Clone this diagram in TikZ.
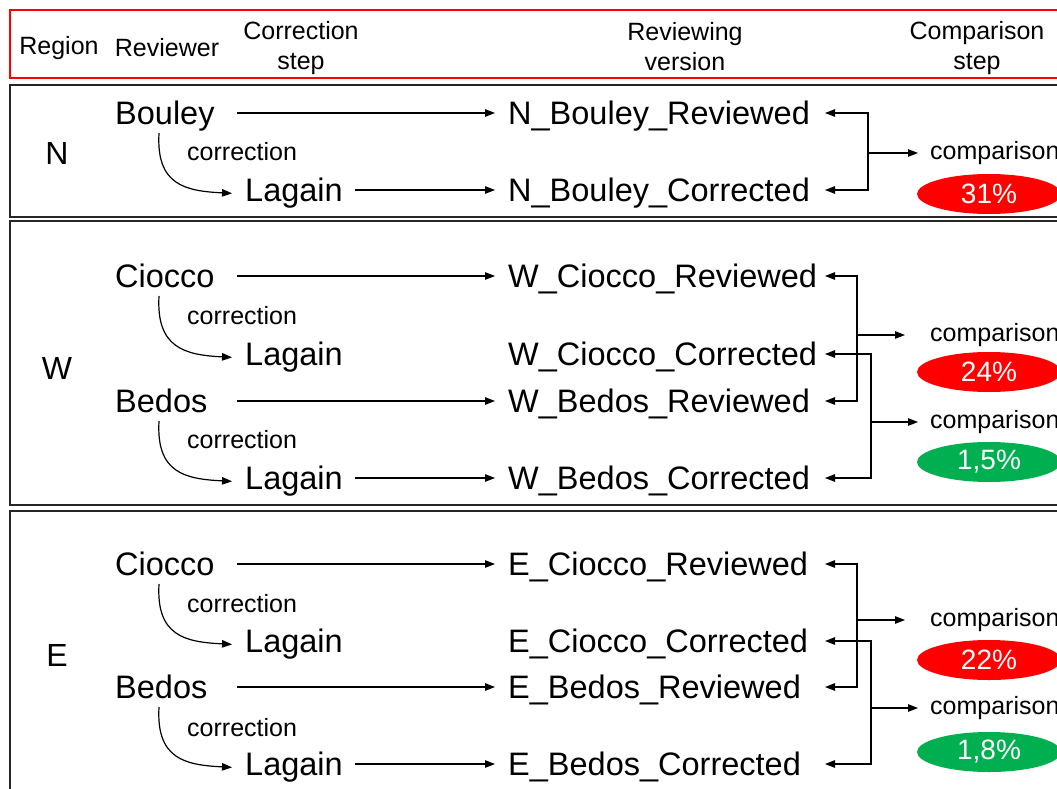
\documentclass[tikz,border=0pt]{standalone}
\usepackage{fontspec}
\setmainfont{Liberation Sans}
\usetikzlibrary{shapes.geometric,arrows.meta}
\definecolor{okgreen}{RGB}{0,176,80}
\begin{document}
\begin{tikzpicture}[x=1pt,y=-1pt,
  big/.style={font=\fontsize{32.5}{38}\selectfont, inner sep=0pt, text height=23pt, text depth=0pt, anchor=west, align=left},
  small/.style={font=\fontsize{25}{30}\selectfont, inner sep=0pt, text height=13pt, text depth=0pt, anchor=west},
  head/.style={font=\fontsize{25}{30}\selectfont, inner sep=0pt, align=center},
  region/.style={font=\fontsize{32}{38}\selectfont, inner sep=0pt, text height=23pt, text depth=0pt},
  version/.style={big, inner xsep=13pt},
  arr/.style={-{Triangle[length=10pt,width=7.5pt]}, line width=1.2pt},
  arrboth/.style={{Triangle[length=10pt,width=7.5pt]}-{Triangle[length=10pt,width=7.5pt]}, line width=1.2pt},
  curv/.style={arr, shorten >=13pt},
  panel/.style={draw=black!85, line width=1.6pt},
  pct/.style={ellipse, minimum width=144pt, minimum height=40pt, inner sep=0pt, text=white, font=\fontsize{28}{32}\selectfont},
]
\clip (0,0) rectangle (1057,789);
\fill[white] (0,0) rectangle (1057,789);

% header
\draw[red, line width=1.3pt] (10,10) rectangle (1075,78);
\node[head] (hRegion) at (59,48) {Region};
\node[head] (hReviewer) at (167,48) {Reviewer};
\node[head] (hCorr) at (301,48) {Correction\\step};
\node[head] (hVers) at (685,47) {Reviewing\\version};
\node[head] (hComp) at (977,48) {Comparison\\step};

% panels
\draw[panel] (10,85) rectangle (1075,217);
\draw[panel] (10,221) rectangle (1075,505);
\draw[panel] (10,511) rectangle (1075,810);

% ---------------- N ----------------
\node[region] (rN) at (57,153) {N};
\node[big, text width=122pt] (bN) at (115,113) {Bouley};
\node[small] (cN) at (187,154) {correction};
\node[big, text width=110pt] (lN) at (245,190) {Lagain};
\node[version] (nR) at (495,113) {N\_Bouley\_Reviewed};
\node[version] (nC) at (495,190) {N\_Bouley\_Corrected};
\node[small] (cmpN) at (930,153) {comparison};
\node[pct, fill=red] (pN) at (989,194) {31\%};

\draw[arr] (bN.east) -- (nR.west);
\draw[arr] (lN.east) -- (nC.west);
\draw[curv] ([xshift=44pt,yshift=-20pt]bN.west) .. controls +(-3,52) and +(-60,-3) .. ([yshift=-4pt]lN.west);

\coordinate (kN) at (868,153);
\coordinate (tN1) at (825,113);
\coordinate (tN2) at (825,190);
\draw[arrboth] (tN1) -- (kN |- tN1) -- (kN |- tN2) -- (tN2);
\draw[arr, shorten >=12pt] (kN) -- (cmpN.west);

% ---------------- W ----------------
\node[region] (rW) at (57,368) {W};
\node[big, text width=122pt] (wc) at (115,276) {Ciocco};
\node[small] (cW1) at (187,318) {correction};
\node[big, text width=110pt] (wl1) at (245,354) {Lagain};
\node[big, text width=122pt] (wb) at (115,401) {Bedos};
\node[small] (cW2) at (187,442) {correction};
\node[big, text width=110pt] (wl2) at (245,478) {Lagain};
\node[version] (wcR) at (495,276) {W\_Ciocco\_Reviewed};
\node[version] (wcC) at (495,354) {W\_Ciocco\_Corrected};
\node[version] (wbR) at (495,401) {W\_Bedos\_Reviewed};
\node[version] (wbC) at (495,478) {W\_Bedos\_Corrected};
\node[small] (cmpW1) at (930,335) {comparison};
\node[pct, fill=red] (pW1) at (989,372) {24\%};
\node[small] (cmpW2) at (930,422) {comparison};
\node[pct, fill=okgreen] (pW2) at (989,462) {1,5\%};

\draw[arr] (wc.east) -- (wcR.west);
\draw[arr] (wb.east) -- (wbR.west);
\draw[arr] (wl2.east) -- (wbC.west);
\draw[curv] ([xshift=44pt,yshift=-20pt]wc.west) .. controls +(-3,52) and +(-60,-3) .. ([yshift=-4pt]wl1.west);
\draw[curv] ([xshift=44pt,yshift=-20pt]wb.west) .. controls +(-3,52) and +(-60,-3) .. ([yshift=-4pt]wl2.west);

\coordinate (kW1) at (857,335);
\coordinate (tW1) at (825,276);
\coordinate (tW2) at (825,401);
\draw[arrboth] (tW1) -- (kW1 |- tW1) -- (kW1 |- tW2) -- (tW2);
\draw[arr, shorten >=25pt] (kW1) -- (cmpW1.west);

\coordinate (kW2) at (871,422);
\coordinate (tW3) at (825,354);
\coordinate (tW4) at (825,478);
\draw[arrboth] (tW3) -- (kW2 |- tW3) -- (kW2 |- tW4) -- (tW4);
\draw[arr, shorten >=12pt] (kW2) -- (cmpW2.west);

% ---------------- E ----------------
\node[region] (rE) at (57,655) {E};
\node[big, text width=122pt] (ec) at (115,564) {Ciocco};
\node[small] (cE1) at (187,606) {correction};
\node[big, text width=110pt] (el1) at (245,641) {Lagain};
\node[big, text width=122pt] (eb) at (115,687) {Bedos};
\node[small] (cE2) at (187,730) {correction};
\node[big, text width=110pt] (el2) at (245,764) {Lagain};
\node[version] (ecR) at (495,564) {E\_Ciocco\_Reviewed};
\node[version] (ecC) at (495,641) {E\_Ciocco\_Corrected};
\node[version] (ebR) at (495,687) {E\_Bedos\_Reviewed};
\node[version] (ebC) at (495,764) {E\_Bedos\_Corrected};
\node[small] (cmpE1) at (930,620) {comparison};
\node[pct, fill=red] (pE1) at (989,660) {22\%};
\node[small] (cmpE2) at (930,708) {comparison};
\node[pct, fill=okgreen] (pE2) at (989,752) {1,8\%};

\draw[arr] (ec.east) -- (ecR.west);
\draw[arr] (eb.east) -- (ebR.west);
\draw[arr] (el2.east) -- (ebC.west);
\draw[curv] ([xshift=44pt,yshift=-20pt]ec.west) .. controls +(-3,52) and +(-60,-3) .. ([yshift=-4pt]el1.west);
\draw[curv] ([xshift=44pt,yshift=-20pt]eb.west) .. controls +(-3,52) and +(-60,-3) .. ([yshift=-4pt]el2.west);

\coordinate (kE1) at (857,620);
\coordinate (tE1) at (825,564);
\coordinate (tE2) at (825,687);
\draw[arrboth] (tE1) -- (kE1 |- tE1) -- (kE1 |- tE2) -- (tE2);
\draw[arr, shorten >=25pt] (kE1) -- (cmpE1.west);

\coordinate (kE2) at (871,708);
\coordinate (tE3) at (825,641);
\coordinate (tE4) at (825,764);
\draw[arrboth] (tE3) -- (kE2 |- tE3) -- (kE2 |- tE4) -- (tE4);
\draw[arr, shorten >=12pt] (kE2) -- (cmpE2.west);
\end{tikzpicture}
\end{document}
